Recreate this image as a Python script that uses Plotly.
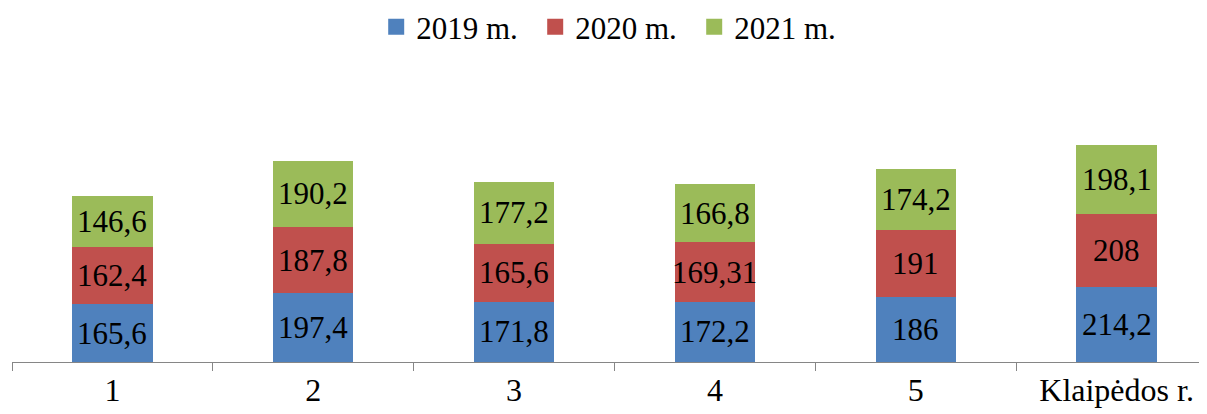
import plotly.graph_objects as go

categories = ["1", "2", "3", "4", "5", "Klaipėdos r."]
series_names = ["2019 m.", "2020 m.", "2021 m."]
v2019 = [165.6, 197.4, 171.8, 172.2, 186, 214.2]
v2020 = [162.4, 187.8, 165.6, 169.31, 191, 208]
v2021 = [146.6, 190.2, 177.2, 166.8, 174.2, 198.1]
colors = ["#4F81BD", "#C0504D", "#9BBB59"]

FONT = "Liberation Serif"
FS = 31

def fmt(v):
    return f"{v:g}".replace(".", ",")

fig = go.Figure()
series = [v2019, v2020, v2021]
for name, vals, col in zip(series_names, series, colors):
    fig.add_trace(go.Bar(
        x=categories, y=vals, name=name,
        marker=dict(color=col, line=dict(width=0)),
        width=0.4, showlegend=False,
        hoverinfo="skip",
    ))
for name, col in zip(series_names, colors):
    fig.add_trace(go.Scatter(
        x=[None], y=[None], mode="markers", name=name,
        marker=dict(symbol="square", size=16, color=col),
    ))

annotations = []
base = [0.0] * len(categories)
for vals in series:
    for i, v in enumerate(vals):
        annotations.append(dict(
            x=i, y=base[i] + v / 2, xref="x", yref="y",
            text=fmt(v), showarrow=False,
            font=dict(family=FONT, size=FS, color="black"),
        ))
        base[i] += v

fig.update_layout(
    barmode="stack",
    width=1207, height=414,
    margin=dict(l=4, r=0, t=52, b=60, autoexpand=False),
    paper_bgcolor="white", plot_bgcolor="white",
    font=dict(family=FONT, size=FS, color="black"),
    showlegend=True,
    legend=dict(orientation="h", x=0.501, xanchor="center", y=1 + 33 / 302, yanchor="middle",
                yref="paper", font=dict(family=FONT, size=FS), itemwidth=30,
                entrywidth=114, entrywidthmode="pixels",
                traceorder="normal"),
    annotations=annotations,
    xaxis=dict(
        range=[-0.5, 5.49], showgrid=False, zeroline=False,
        showline=True, linecolor="#868686", linewidth=1,
        ticks="outside", tickson="boundaries", ticklen=8, tickcolor="#868686",
        tickfont=dict(family=FONT, size=32, color="black"),
        automargin=False,
    ),
    yaxis=dict(range=[0, 302 / 0.35], visible=False, automargin=False),
)

fig.write_html("out.html")
